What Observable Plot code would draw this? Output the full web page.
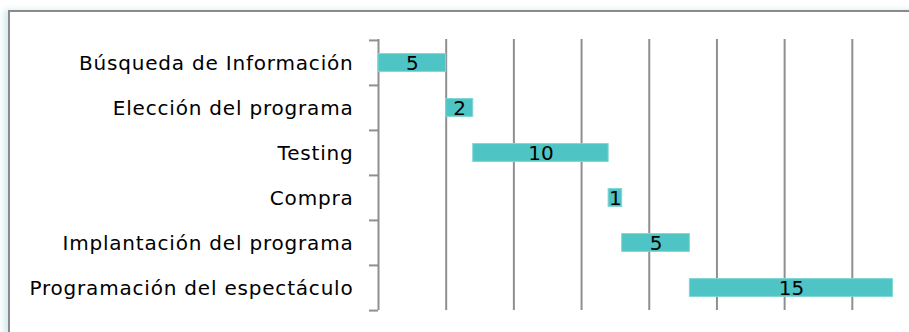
<!DOCTYPE html>
<html>
<head>
<meta charset="utf-8">
<script src="https://cdn.jsdelivr.net/npm/d3@7"></script>
<script src="https://cdn.jsdelivr.net/npm/@observablehq/plot@0.6"></script>
<style>
  html, body { margin: 0; padding: 0; background: #fff; overflow: hidden; }
  #wrap { position: relative; width: 909px; height: 332px; overflow: hidden; background: #fff; }
  #frame {
    position: absolute; left: 8px; top: 10px; width: 1000px; height: 400px;
    border-left: 2px solid #8a8a8a; border-top: 2px solid #8a8a8a;
    box-shadow: -4px 0 6px rgba(190, 225, 235, 0.7);
    pointer-events: none;
  }
  #chart { position: absolute; left: 0; top: 0; }
  #chart g[aria-label="y-axis tick label"] text { letter-spacing: 0.8px; }
</style>
</head>
<body>
<div id="wrap">
  <div id="chart"></div>
  <div id="frame"></div>
</div>
<script>
// Project schedule: task names, start offsets and durations (days)
const tasks = [
  "Búsqueda de Información",
  "Elección del programa",
  "Testing",
  "Compra",
  "Implantación del programa",
  "Programación del espectáculo"
];
const starts = [0, 5, 7, 17, 18, 23];
const durations = [5, 2, 10, 1, 5, 15];
const gridTicks = [5, 10, 15, 20, 25, 30, 35, 40];

const rows = tasks.map((task, i) => ({
  task,
  start: starts[i],
  end: starts[i] + durations[i],
  duration: durations[i]
}));

const plotTop = 39, plotBottom = 310;
const step = (plotBottom - plotTop) / tasks.length;
const barH = 18;
const inset = (step - barH) / 2;
const gray = "#8f8f8f";
const font = "'DejaVu Sans', sans-serif";

const chart = Plot.plot({
  width: 909,
  height: 332,
  marginLeft: 378,
  marginTop: plotTop,
  marginBottom: 332 - plotBottom,
  style: { fontFamily: font, background: "transparent", overflow: "visible" },
  x: { domain: [0, 40], range: [378, 919.5], axis: null },
  y: { domain: tasks, padding: 0, axis: null },
  marks: [
    // vertical gridlines every 5 days
    Plot.ruleX(gridTicks, { stroke: gray, strokeWidth: 2 }),
    // category axis line
    Plot.ruleX([0], { stroke: gray, strokeWidth: 2 }),
    // category tick marks on band boundaries
    Plot.axisY({ label: null, tickSize: 9, tickFormat: () => "", dy: -step / 2, stroke: gray, strokeWidth: 2, strokeOpacity: 1 }),
    Plot.axisY([tasks[tasks.length - 1]], { label: null, tickSize: 9, tickFormat: () => "", dy: step / 2, stroke: gray, strokeWidth: 2, strokeOpacity: 1 }),
    // task labels
    Plot.axisY({ label: null, tickSize: 0, tickPadding: 25, fontSize: 20, fill: "#000", fontFamily: font, dy: 1 }),
    // task bars
    Plot.barX(rows, {
      y: "task", x1: "start", x2: "end",
      fill: "#4fc4c4", stroke: "#7fd6d6", strokeWidth: 1,
      insetTop: inset, insetBottom: inset
    }),
    // duration labels
    Plot.text(rows, {
      y: "task", x: d => (d.start + d.end) / 2, text: d => String(d.duration),
      fontSize: 20, fill: "#000", fontFamily: font, dy: 1
    })
  ]
});
document.getElementById("chart").appendChild(chart);
</script>
</body>
</html>
